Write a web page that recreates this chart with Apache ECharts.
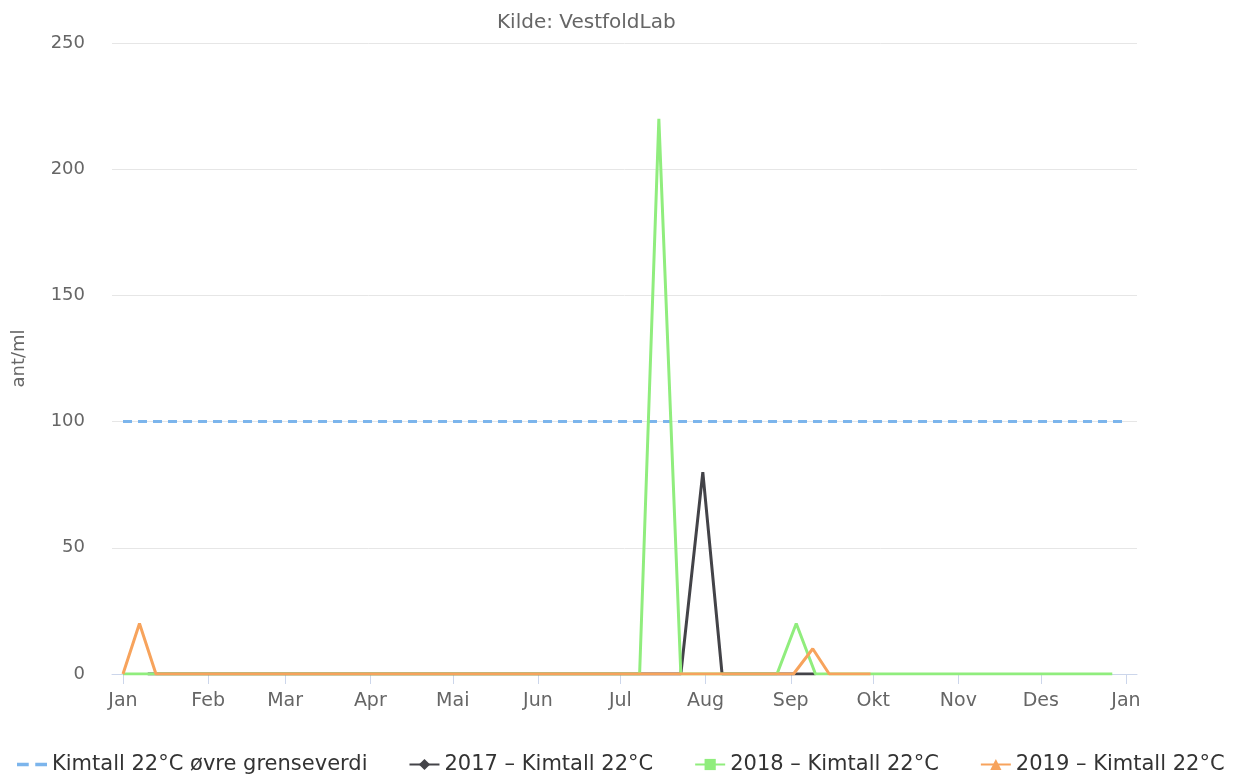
<!DOCTYPE html>
<html>
<head>
<meta charset="utf-8">
<script src="https://cdn.jsdelivr.net/npm/echarts@6/dist/echarts.min.js"></script>
<style>
  html, body { margin: 0; padding: 0; background: #fff; }
  #chart { width: 1236px; height: 776px; }
</style>
</head>
<body>
<div id="chart"></div>
<script>
// Kimtall 22°C per år, lagt over ett felles kalenderår (2019)

const MONTHS = ['Jan', 'Feb', 'Mar', 'Apr', 'Mai', 'Jun', 'Jul', 'Aug', 'Sep', 'Okt', 'Nov', 'Des']

const limitDates = ['2019-01-01', '2020-01-01']
const limitValues = [100, 100]

const dates2017 = ['2019-01-10', '2019-07-23', '2019-07-31', '2019-08-07', '2019-09-10']
const values2017 = [0, 0, 80, 0, 0]

const dates2018 = ['2019-01-01', '2019-01-13', '2019-07-08', '2019-07-15', '2019-07-23', '2019-08-27', '2019-09-03', '2019-09-10', '2019-12-27']
const values2018 = [0, 0, 0, 220, 0, 0, 20, 0, 0]

const dates2019 = ['2019-01-01', '2019-01-07', '2019-01-13', '2019-09-02', '2019-09-09', '2019-09-15', '2019-09-30']
const values2019 = [0, 20, 0, 0, 10, 0, 0]

const SERIES_NAMES = [
  'Kimtall 22°C øvre grenseverdi',
  '2017 – Kimtall 22°C',
  '2018 – Kimtall 22°C',
  '2019 – Kimtall 22°C',
]

// dato-streng -> ms (UTC), så aksen blir uavhengig av tidssone
const ts = (s) => Date.parse(s + 'T00:00:00Z')
const zip = (d, v) => d.map((x, i) => [ts(x), v[i]])

// månedsstart for ticks/labels, inkl. 1. jan neste år
const monthTicks = []
for (let m = 0; m <= 12; m++) monthTicks.push(Date.UTC(2019, m, 1))

const chart = echarts.init(document.getElementById('chart'))
const FONT = 'DejaVu Sans'

// stiplet ikon for grenseverdien (linjeserie med symbol 'none' får ellers en sirkel)
const DASH_ICON = 'path://M0,0 h9 v2.6 h-9 Z M14,0 h9 v2.6 h-9 Z'

chart.setOption({
  animation: false,
  textStyle: { fontFamily: FONT },
  title: {
    text: 'Kilde: VestfoldLab',
    left: 492,
    top: 8,
    textStyle: { fontSize: 20, fontWeight: 'normal', color: '#666', fontFamily: FONT },
  },
  legend: {
    top: 749,
    left: 12,
    itemGap: 41,
    itemWidth: 30,
    itemHeight: 14,
    textStyle: { fontSize: 21, color: '#333', fontFamily: FONT },
    data: [
      { name: SERIES_NAMES[0], icon: DASH_ICON },
      SERIES_NAMES[1],
      SERIES_NAMES[2],
      SERIES_NAMES[3],
    ],
  },
  grid: { left: 112, right: 99, top: 43, bottom: 102, containLabel: false },
  xAxis: {
    type: 'value',
    min: Date.UTC(2018, 11, 28),
    max: Date.UTC(2020, 0, 5),
    axisLine: { onZero: false, lineStyle: { color: '#ccd6eb', width: 1 } },
    axisTick: { show: true, length: 10, lineStyle: { color: '#ccd6eb' }, customValues: monthTicks },
    axisLabel: {
      customValues: monthTicks,
      margin: 18,
      fontSize: 19,
      color: '#666',
      fontFamily: FONT,
      formatter: (v) => MONTHS[new Date(v).getUTCMonth()],
    },
    splitLine: { show: false },
  },
  yAxis: {
    type: 'value',
    min: 0,
    max: 250,
    interval: 50,
    name: 'ant/ml',
    nameLocation: 'middle',
    nameRotate: 90,
    nameGap: 84,
    nameTextStyle: { fontSize: 18, color: '#666', fontFamily: FONT },
    axisLine: { show: false },
    axisTick: { show: false },
    axisLabel: { margin: 27, fontSize: 18, color: '#666', fontFamily: FONT },
    splitLine: { lineStyle: { color: '#e6e6e6', width: 1 } },
  },
  series: [
    {
      name: SERIES_NAMES[0],
      type: 'line',
      data: zip(limitDates, limitValues),
      symbol: 'none',
      lineStyle: { color: '#7cb5ec', width: 3, type: [9, 6] },
      itemStyle: { color: '#7cb5ec' },
    },
    {
      name: SERIES_NAMES[1],
      type: 'line',
      data: zip(dates2017, values2017),
      symbol: 'diamond',
      symbolSize: 12,
      showSymbol: false,
      lineStyle: { color: '#434348', width: 3 },
      itemStyle: { color: '#434348' },
    },
    {
      name: SERIES_NAMES[2],
      type: 'line',
      data: zip(dates2018, values2018),
      symbol: 'rect',
      symbolSize: 11,
      showSymbol: false,
      lineStyle: { color: '#90ed7d', width: 3 },
      itemStyle: { color: '#90ed7d' },
    },
    {
      name: SERIES_NAMES[3],
      type: 'line',
      data: zip(dates2019, values2019),
      symbol: 'triangle',
      symbolSize: 12,
      showSymbol: false,
      lineStyle: { color: '#f7a35c', width: 3 },
      itemStyle: { color: '#f7a35c' },
    },
  ],
})
</script>
</body>
</html>
